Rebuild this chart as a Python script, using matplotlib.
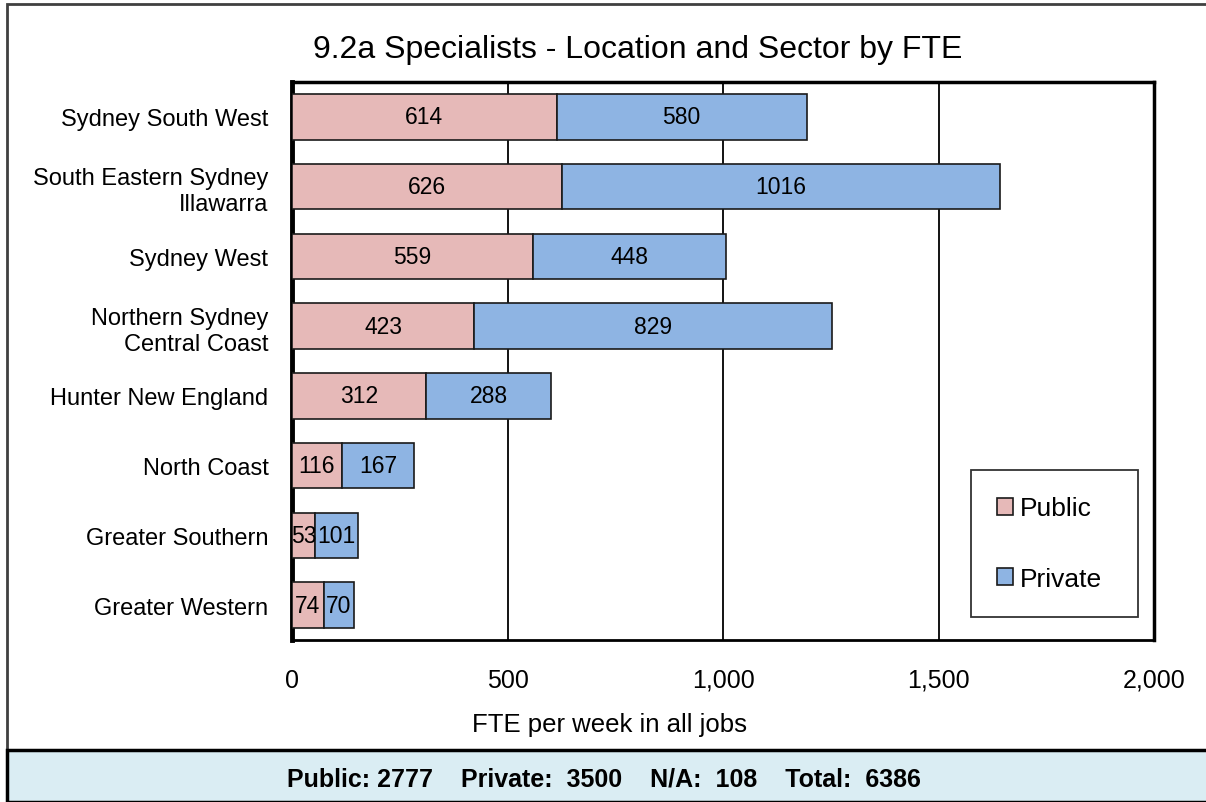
import matplotlib
matplotlib.use("Agg", force=True)

import matplotlib.pyplot as plt
from matplotlib.patches import Rectangle

plt.rcParams["font.family"] = ["Liberation Sans", "DejaVu Sans"]

regions = [
    "Sydney South West",
    "South Eastern Sydney\nIllawarra",
    "Sydney West",
    "Northern Sydney\nCentral Coast",
    "Hunter New England",
    "North Coast",
    "Greater Southern",
    "Greater Western",
]
public = [614, 626, 559, 423, 312, 116, 53, 74]
private = [580, 1016, 448, 829, 288, 167, 101, 70]
x_ticks = [0, 500, 1000, 1500, 2000]
footer = "Public: 2777    Private:  3500    N/A:  108    Total:  6386"

pink = "#e6b9b8"
blue = "#8eb4e3"

W, H = 1206, 803
fig = plt.figure(figsize=(W / 100, H / 100), dpi=100)

# outer frame and footer band
fig.add_artist(Rectangle((7 / W, 1 - 751 / H), 1.2, (751 - 5) / H,
                         transform=fig.transFigure, fill=False,
                         edgecolor="#404040", linewidth=2.0))
fig.add_artist(Rectangle((7 / W, 0), 1.2, 1 - 751 / H,
                         transform=fig.transFigure, facecolor="#daedf3",
                         edgecolor="black", linewidth=2.5))

ax = fig.add_axes([292 / W, 1 - 641 / H, (1154 - 292) / W, (641 - 83) / H])

ypos = list(range(len(regions)))
b1 = ax.barh(ypos, public, height=0.65, color=pink, edgecolor="#1a1a1a",
             linewidth=1.2, label="Public", zorder=3)
b2 = ax.barh(ypos, private, left=public, height=0.65, color=blue,
             edgecolor="#1a1a1a", linewidth=1.2, label="Private", zorder=3)
ax.bar_label(b1, labels=[str(v) for v in public], label_type="center",
             fontsize=16.5, zorder=4)
ax.bar_label(b2, labels=[str(v) for v in private], label_type="center",
             fontsize=16.5, zorder=4)

ax.set_ylim(len(regions) - 0.5, -0.5)
ax.set_yticks(ypos)
ax.set_yticklabels(regions, fontsize=17, linespacing=1.25)
ax.set_xlim(0, 2000)
ax.set_xticks(x_ticks)
ax.set_xticklabels([f"{v:,}" for v in x_ticks], fontsize=18)
ax.tick_params(axis="both", length=0)
ax.tick_params(axis="x", pad=20)
ax.tick_params(axis="y", pad=17)

for v in x_ticks[1:-1]:
    ax.axvline(v, color="black", linewidth=1.3, zorder=1)

for side, lw in [("left", 3.5), ("top", 2.5), ("right", 2.5), ("bottom", 2.0)]:
    ax.spines[side].set_linewidth(lw)
    ax.spines[side].set_color("black")

fig.text(609 / W, 1 - 725 / H, "FTE per week in all jobs",
         ha="center", va="center", fontsize=18.5)

leg = ax.legend(loc="lower left",
                bbox_to_anchor=((971 - 292) / 862, 23 / 558, 167 / 862, 145 / 558),
                mode="expand", fontsize=19, frameon=True, fancybox=False,
                edgecolor="black", handlelength=0.6, handleheight=0.6,
                handletextpad=0.25, labelspacing=1.75, borderpad=1.0,
                borderaxespad=0)
leg.get_frame().set_linewidth(1.3)

fig.text(638 / W, 1 - 50 / H, "9.2a Specialists - Location and Sector by FTE",
         ha="center", va="center", fontsize=23)
fig.text(604 / W, 1 - 780 / H, footer, ha="center", va="center",
         fontsize=18, fontweight="bold")

fig.savefig("out.png", dpi=100)
plt.close(fig)
